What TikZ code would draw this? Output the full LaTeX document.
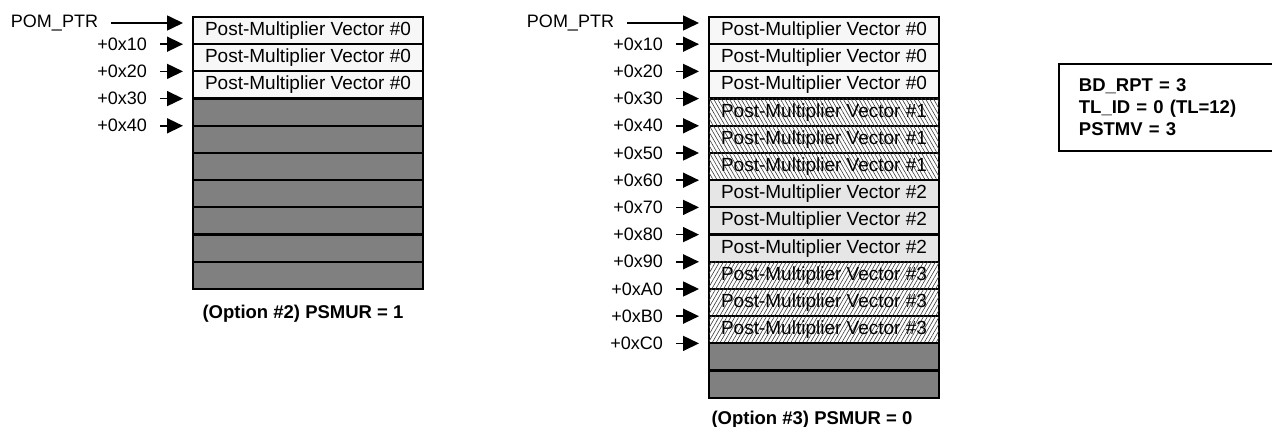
\documentclass[tikz,border=0pt]{standalone}
\usepackage{fontspec}
\setmainfont{Liberation Sans}
\usetikzlibrary{arrows.meta,positioning,patterns.meta}
\definecolor{vecwhite}{HTML}{F7F7F7}
\definecolor{vecgray}{HTML}{E6E6E6}
\definecolor{unusedgray}{HTML}{808080}
\definecolor{hatchgray}{HTML}{3A3A3A}
\tikzset{
    memrow/.style={draw, line width=2.2pt, minimum width=230pt, minimum height=27.2pt, inner sep=0pt, outer sep=0pt, font=\fontsize{19}{22}\selectfont},
    vecplain/.style={memrow, fill=vecwhite},
    vecshaded/.style={memrow, fill=vecgray},
    vechatchback/.style={memrow, fill=white, postaction={pattern={Lines[angle=-60,distance=3.4pt,line width=0.6pt]}, pattern color=hatchgray}},
    vechatchfwd/.style={memrow, fill=white, postaction={pattern={Lines[angle=60,distance=3.4pt,line width=0.6pt]}, pattern color=hatchgray}},
    vecunused/.style={memrow, fill=unusedgray},
    offlabel/.style={inner sep=0pt, outer xsep=13pt, font=\fontsize{18}{20}\selectfont},
    ptrarrow/.style={-{Triangle[length=16pt,width=15pt]}, line width=1.6pt},
    captionlabel/.style={inner sep=0pt, font=\bfseries\fontsize{18.5}{21}\selectfont},
    infobox/.style={draw, line width=1.8pt, anchor=north west, text width=190pt, inner xsep=20pt, minimum height=87pt, align=left, font=\bfseries\fontsize{18.5}{22}\selectfont}
}
\begin{document}
\begin{tikzpicture}[x=1pt,y=-1pt]
    \path[use as bounding box] (0,0) rectangle (1272,427);
    \clip (0,0) rectangle (1272,427);
    % option 2
    \node[vecplain, anchor=north west] (rowA0) at (193,17) {Post-Multiplier Vector \#0};
    \node[vecplain, below=0pt of rowA0] (rowA1) {Post-Multiplier Vector \#0};
    \node[vecplain, below=0pt of rowA1] (rowA2) {Post-Multiplier Vector \#0};
    \node[vecunused, below=0pt of rowA2] (rowA3) {};
    \node[vecunused, below=0pt of rowA3] (rowA4) {};
    \node[vecunused, below=0pt of rowA4] (rowA5) {};
    \node[vecunused, below=0pt of rowA5] (rowA6) {};
    \node[vecunused, below=0pt of rowA6] (rowA7) {};
    \node[vecunused, below=0pt of rowA7] (rowA8) {};
    \node[vecunused, below=0pt of rowA8] (rowA9) {};
    \node[offlabel, anchor=east] (pomA) at ([xshift=-82pt, yshift=-6pt]rowA0.north west) {POM\_PTR};
    \node[offlabel, left=33pt of rowA1.north west] (offA1) {+0x10};
    \node[offlabel, left=33pt of rowA2.north west] (offA2) {+0x20};
    \node[offlabel, left=33pt of rowA3.north west] (offA3) {+0x30};
    \node[offlabel, left=33pt of rowA4.north west] (offA4) {+0x40};
    \draw[ptrarrow] (pomA.east) -- ([xshift=-10pt, yshift=-6pt]rowA0.north west);
    \draw[ptrarrow] (offA1.east) -- ([xshift=-10pt]rowA1.north west);
    \draw[ptrarrow] (offA2.east) -- ([xshift=-10pt]rowA2.north west);
    \draw[ptrarrow] (offA3.east) -- ([xshift=-10pt]rowA3.north west);
    \draw[ptrarrow] (offA4.east) -- ([xshift=-10pt]rowA4.north west);
    \node[captionlabel, below=16pt of rowA9, xshift=-5pt] (capA) {(Option \#2) PSMUR = 1};
    % option 3
    \node[vecplain, anchor=north west] (rowB0) at (709,17) {Post-Multiplier Vector \#0};
    \node[vecplain, below=0pt of rowB0] (rowB1) {Post-Multiplier Vector \#0};
    \node[vecplain, below=0pt of rowB1] (rowB2) {Post-Multiplier Vector \#0};
    \node[vechatchback, below=0pt of rowB2] (rowB3) {Post-Multiplier Vector \#1};
    \node[vechatchback, below=0pt of rowB3] (rowB4) {Post-Multiplier Vector \#1};
    \node[vechatchback, below=0pt of rowB4] (rowB5) {Post-Multiplier Vector \#1};
    \node[vecshaded, below=0pt of rowB5] (rowB6) {Post-Multiplier Vector \#2};
    \node[vecshaded, below=0pt of rowB6] (rowB7) {Post-Multiplier Vector \#2};
    \node[vecshaded, below=0pt of rowB7] (rowB8) {Post-Multiplier Vector \#2};
    \node[vechatchfwd, below=0pt of rowB8] (rowB9) {Post-Multiplier Vector \#3};
    \node[vechatchfwd, below=0pt of rowB9] (rowB10) {Post-Multiplier Vector \#3};
    \node[vechatchfwd, below=0pt of rowB10] (rowB11) {Post-Multiplier Vector \#3};
    \node[vecunused, below=0pt of rowB11] (rowB12) {};
    \node[vecunused, below=0pt of rowB12] (rowB13) {};
    \node[offlabel, anchor=east] (pomB) at ([xshift=-82pt, yshift=-6pt]rowB0.north west) {POM\_PTR};
    \node[offlabel, left=33pt of rowB1.north west] (offB1) {+0x10};
    \node[offlabel, left=33pt of rowB2.north west] (offB2) {+0x20};
    \node[offlabel, left=33pt of rowB3.north west] (offB3) {+0x30};
    \node[offlabel, left=33pt of rowB4.north west] (offB4) {+0x40};
    \node[offlabel, left=33pt of rowB5.north west] (offB5) {+0x50};
    \node[offlabel, left=33pt of rowB6.north west] (offB6) {+0x60};
    \node[offlabel, left=33pt of rowB7.north west] (offB7) {+0x70};
    \node[offlabel, left=33pt of rowB8.north west] (offB8) {+0x80};
    \node[offlabel, left=33pt of rowB9.north west] (offB9) {+0x90};
    \node[offlabel, left=33pt of rowB10.north west] (offB10) {+0xA0};
    \node[offlabel, left=33pt of rowB11.north west] (offB11) {+0xB0};
    \node[offlabel, left=33pt of rowB12.north west] (offB12) {+0xC0};
    \draw[ptrarrow] (pomB.east) -- ([xshift=-10pt, yshift=-6pt]rowB0.north west);
    \draw[ptrarrow] (offB1.east) -- ([xshift=-10pt]rowB1.north west);
    \draw[ptrarrow] (offB2.east) -- ([xshift=-10pt]rowB2.north west);
    \draw[ptrarrow] (offB3.east) -- ([xshift=-10pt]rowB3.north west);
    \draw[ptrarrow] (offB4.east) -- ([xshift=-10pt]rowB4.north west);
    \draw[ptrarrow] (offB5.east) -- ([xshift=-10pt]rowB5.north west);
    \draw[ptrarrow] (offB6.east) -- ([xshift=-10pt]rowB6.north west);
    \draw[ptrarrow] (offB7.east) -- ([xshift=-10pt]rowB7.north west);
    \draw[ptrarrow] (offB8.east) -- ([xshift=-10pt]rowB8.north west);
    \draw[ptrarrow] (offB9.east) -- ([xshift=-10pt]rowB9.north west);
    \draw[ptrarrow] (offB10.east) -- ([xshift=-10pt]rowB10.north west);
    \draw[ptrarrow] (offB11.east) -- ([xshift=-10pt]rowB11.north west);
    \draw[ptrarrow] (offB12.east) -- ([xshift=-10pt]rowB12.north west);
    \node[captionlabel, below=13pt of rowB13, xshift=-12pt] (capB) {(Option \#3) PSMUR = 0};
    % parameters
    \node[infobox] (params) at (1058,63) {BD\_RPT = 3\\TL\_ID = 0 (TL=12)\\PSTMV = 3};
\end{tikzpicture}
\end{document}
